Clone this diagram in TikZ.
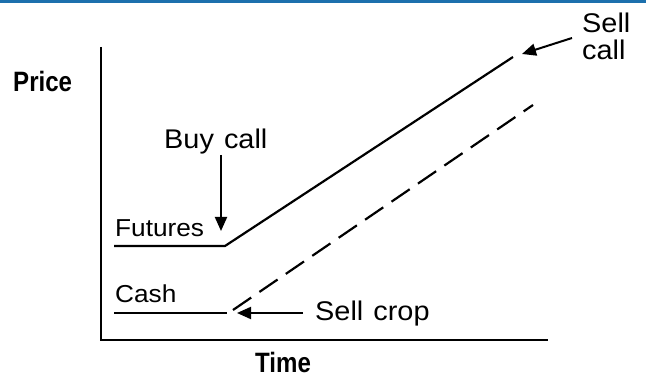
\documentclass[tikz,border=0pt]{standalone}
\usepackage{fontspec}
\setmainfont{Liberation Sans}
\newfontfamily\lblfont{Liberation Sans}[FakeStretch=1.07, WordSpace=1.25]
\newfontfamily\axfont{Liberation Sans}[FakeStretch=0.86]
\usetikzlibrary{arrows.meta}
\definecolor{barblue}{RGB}{28,112,173}
\tikzset{
  label/.style={inner sep=0pt, anchor=base west, font=\lblfont\fontsize{27}{27}\selectfont},
  smalllabel/.style={inner sep=0pt, anchor=base west, font=\lblfont\fontsize{24.5}{27}\selectfont},
  axislabel/.style={inner sep=0pt, text depth=0pt, anchor=base west, font=\axfont\bfseries\fontsize{28}{28}\selectfont},
  axisline/.style={line width=2.4pt},
  priceline/.style={line width=2.2pt, line join=miter},
  pointer/.style={line width=2pt, -{Triangle[length=14pt,width=12pt]}},
}
\begin{document}
\begin{tikzpicture}[x=1pt,y=-1pt]
\useasboundingbox (0,0) rectangle (646,379);
% header bar
\fill[barblue] (0,0) rectangle (646,3.5);

% axes
\coordinate (ytop) at (101,47);
\coordinate (origin) at (101,340);
\coordinate (xend) at (548,340);
\draw[axisline] (ytop) -- (origin) -- (xend);
\node[axislabel] (price) at (13,92) {Price};
\node[axislabel] (time) at (255,373) {Time};

% futures price path
\coordinate (fut0) at (114,246);
\coordinate (fut1) at (225,246);
\coordinate (fut2) at (513,57);
\draw[priceline] (fut0) -- (fut1) -- (fut2);
\node[smalllabel] (futures) at (115,237) {Futures};

% cash price path
\coordinate (cash0) at (114,313);
\coordinate (cash1) at (227,313);
\draw[priceline] (cash0) -- (cash1);
\coordinate (cash2) at (233,310);
\coordinate (cash3) at (533,105);
\draw[priceline, dash pattern=on 22pt off 10pt] (cash2) -- (cash3);
\node[smalllabel] (cash) at (115,303) {Cash};

% events
\node[label] (buycall) at (164,149) {Buy call};
\coordinate (buyfrom) at (221,155);
\coordinate (buyto) at (221,231);
\draw[pointer] (buyfrom) -- (buyto);

\node[label] (sellcrop) at (315,321) {Sell crop};
\coordinate (cropfrom) at (303,313);
\coordinate (cropto) at (237,313);
\draw[pointer] (cropfrom) -- (cropto);

\node[label] (sellA) at (582,33) {Sell};
\node[label] (sellB) at (582,60) {call};
\coordinate (callfrom) at (572,38);
\coordinate (callto) at (522,54);
\draw[pointer] (callfrom) -- (callto);
\end{tikzpicture}
\end{document}
